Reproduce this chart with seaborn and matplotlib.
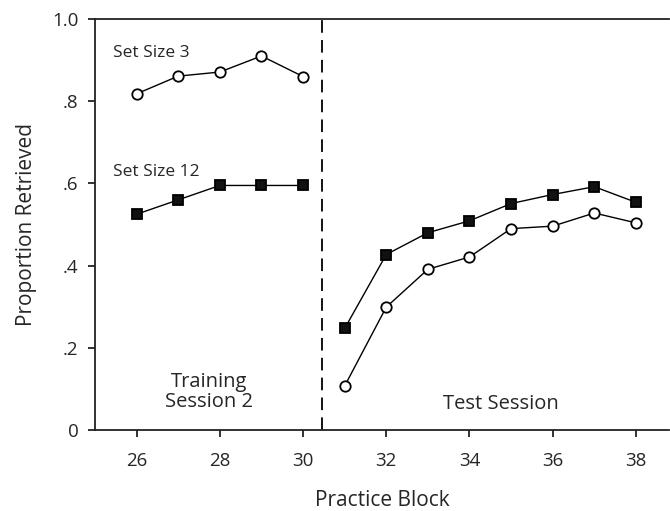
import pandas as pd
import matplotlib.pyplot as plt
import seaborn as sns

sns.set_style("ticks")
plt.rcParams['font.family'] = ['Open Sans', 'DejaVu Sans']

# practice blocks
train_blocks = [26, 27, 28, 29, 30]
test_blocks = [31, 32, 33, 34, 35, 36, 37, 38]
# proportion retrieved
train_ss3 = [0.818, 0.861, 0.871, 0.910, 0.860]
train_ss12 = [0.525, 0.560, 0.595, 0.595, 0.595]
test_ss3 = [0.107, 0.299, 0.391, 0.421, 0.490, 0.496, 0.528, 0.504]
test_ss12 = [0.247, 0.427, 0.480, 0.509, 0.551, 0.573, 0.592, 0.554]
y_ticks = [0, 0.2, 0.4, 0.6, 0.8, 1.0]
y_ticklabels = ["0", ".2", ".4", ".6", ".8", "1.0"]
x_ticks = [26, 28, 30, 32, 34, 36, 38]

rows = []
for sess, blocks, s3, s12 in [("train", train_blocks, train_ss3, train_ss12),
                              ("test", test_blocks, test_ss3, test_ss12)]:
    for b, v in zip(blocks, s3):
        rows.append((sess, "3", b, v))
    for b, v in zip(blocks, s12):
        rows.append((sess, "12", b, v))
df = pd.DataFrame(rows, columns=["session", "setsize", "block", "prop"])

fig = plt.figure(figsize=(6.70, 5.11), dpi=100)
ax = fig.add_axes([0.1418, 0.1585, 0.857, 0.8043])

styles = {"3": dict(marker="o", markerfacecolor="white", markersize=7.5),
          "12": dict(marker="s", markerfacecolor="#111111", markersize=6.5)}
for (sess, ss), d in df.groupby(["session", "setsize"]):
    sns.lineplot(data=d, x="block", y="prop", ax=ax, color="black",
                 linewidth=1.0, markeredgecolor="black", markeredgewidth=1.3,
                 zorder=3, **styles[ss])

ax.axvline(30.45, color="black", linestyle=(0, (7, 4)), linewidth=1.3)

ax.set_xlim(25, 38.8)
ax.set_ylim(0, 1.0)
ax.set_xticks(x_ticks)
ax.set_yticks(y_ticks)
ax.set_yticklabels(y_ticklabels)
ax.tick_params(labelsize=13.5, length=5, width=1.3, color="#222222", pad=7)
ax.tick_params(axis="x", pad=11)
for side in ["left", "bottom", "top"]:
    ax.spines[side].set_linewidth(1.3)
    ax.spines[side].set_color("#222222")
ax.spines["right"].set_visible(False)

ax.set_xlabel("Practice Block", fontsize=15, labelpad=14)
ax.set_ylabel("Proportion Retrieved", fontsize=15, labelpad=11)

ax.text(25.43, 0.917, "Set Size 3", fontsize=12.5, va="center")
ax.text(25.43, 0.628, "Set Size 12", fontsize=12.5, va="center")
ax.text(27.75, 0.092, "Training\nSession 2", fontsize=14.5, ha="center",
        va="center", linespacing=1.0)
ax.text(34.75, 0.064, "Test Session", fontsize=14.5, ha="center", va="center")

fig.savefig("out.png", dpi=100)
